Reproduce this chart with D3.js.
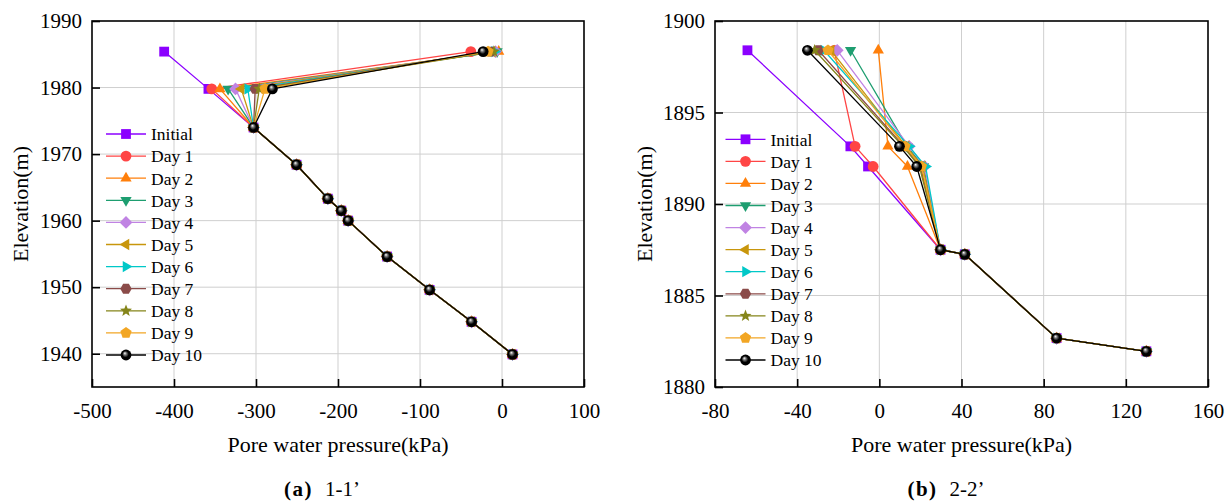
<!DOCTYPE html>
<html><head><meta charset="utf-8">
<script src="https://cdn.jsdelivr.net/npm/d3@7"></script>
<style>
body{margin:0;background:#fff}
svg text{font-family:"Liberation Serif","Times New Roman",serif !important;fill:#000}
</style>
</head><body>
<svg id="chart" width="1231" height="502" font-family="Liberation Serif"></svg>
<script>
// ---------- data ----------
const seriesNames = ["Initial","Day 1","Day 2","Day 3","Day 4","Day 5","Day 6","Day 7","Day 8","Day 9","Day 10"];
const seriesColors = ["#8B00FF","#FF4545","#FF7F0A","#1E9E70","#C083E3","#C8960C","#00C8C8","#8B4B49","#85851A","#F2A624","#000000"];
const seriesShapes = ["square","circle","triUp","triDown","diamond","triLeft","triRight","hexagon","star","pentagon","sphere"];

// Panel (a) 1-1'
const elevA   = [1985.4, 1979.8, 1974.0, 1968.4, 1963.3, 1961.5, 1960.0, 1954.6, 1949.6, 1944.8, 1939.9];
const topA    = [-412, -38, -4, -6, -8, -12, -9, -14, -10, -17, -23];
const secondA = [-358, -354, -344, -334, -325, -318, -310, -301, -296, -289, -280];
const lowerA  = [-303, -250.6, -212.4, -196, -187.6, -140.1, -88.3, -37.1, 12.8];
const xTicksA = [-500, -400, -300, -200, -100, 0, 100];
const yTicksA = [1940, 1950, 1960, 1970, 1980, 1990];

// Panel (b) 2-2'
const elevB   = [1898.4, 1893.15, 1892.05, 1887.5, 1887.25, 1882.67, 1881.95];
const topB    = [-64.2, -22, -0.5, -14, -20.5, -23.5, -27, -29.7, -31.5, -25, -35];
const secondB = [-14.1, -11.8, 4.2, 13.5, 14.5, 13, 14.5, 12, 11.5, 12.5, 9.8];
const thirdB  = [-5.5, -3, 13.7, 21.5, 22, 21, 22.5, 20, 19.5, 20.5, 18.2];
const lowerB  = [29.8, 41.6, 86.3, 130];
const xTicksB = [-80, -40, 0, 40, 80, 120, 160];
const yTicksB = [1880, 1885, 1890, 1895, 1900];

// ---------- helpers ----------
const FONT = '"Liberation Serif","Times New Roman",serif';
const svg = d3.select("#chart");
const defs = svg.append("defs");
const grad = defs.append("radialGradient").attr("id","sphere").attr("cx","0.5").attr("cy","0.5").attr("r","0.5").attr("fx","0.38").attr("fy","0.32");
grad.append("stop").attr("offset","0%").attr("stop-color","#ffffff");
grad.append("stop").attr("offset","28%").attr("stop-color","#777777");
grad.append("stop").attr("offset","60%").attr("stop-color","#000000");
grad.append("stop").attr("offset","100%").attr("stop-color","#000000");

function poly(n, r, rot) {
  let p = "";
  for (let i = 0; i < n; i++) {
    const a = rot + i * 2 * Math.PI / n;
    p += (i ? "L" : "M") + (r * Math.cos(a)).toFixed(2) + "," + (r * Math.sin(a)).toFixed(2);
  }
  return p + "Z";
}
function shapePath(shape) {
  const s = 4.9;
  switch (shape) {
    case "square": return `M${-s},${-s}H${s}V${s}H${-s}Z`;
    case "circle": case "sphere": { const r = 5.4; return `M${-r},0A${r},${r} 0 1,0 ${r},0A${r},${r} 0 1,0 ${-r},0Z`; }
    case "triUp": return poly(3, 6.5, -Math.PI / 2);
    case "triDown": return poly(3, 6.5, Math.PI / 2);
    case "triLeft": return poly(3, 6.5, Math.PI);
    case "triRight": return poly(3, 6.5, 0);
    case "diamond": return poly(4, 6.4, -Math.PI / 2);
    case "hexagon": return poly(6, 5.7, 0);
    case "pentagon": return poly(5, 5.9, -Math.PI / 2);
    case "star": {
      let p = "";
      for (let i = 0; i < 10; i++) {
        const r = i % 2 ? 2.7 : 6.3, a = -Math.PI / 2 + i * Math.PI / 5;
        p += (i ? "L" : "M") + (r * Math.cos(a)).toFixed(2) + "," + (r * Math.sin(a)).toFixed(2);
      }
      return p + "Z";
    }
  }
}
function markerFill(i) { return seriesShapes[i] === "sphere" ? "url(#sphere)" : seriesColors[i]; }

function drawPanel(cfg) {
  const g = svg.append("g").attr("font-family", FONT);
  const x = d3.scaleLinear().domain(cfg.xDomain).range([cfg.left, cfg.right]);
  const y = d3.scaleLinear().domain(cfg.yDomain).range([cfg.bottom, cfg.top]);

  // grid
  g.append("g").selectAll("line").data(cfg.xTicks.filter(t => t > cfg.xDomain[0] && t < cfg.xDomain[1]))
    .join("line").attr("x1", d => x(d)).attr("x2", d => x(d)).attr("y1", cfg.top).attr("y2", cfg.bottom)
    .attr("stroke", "#cfcfcf").attr("stroke-width", 1);
  g.append("g").selectAll("line").data(cfg.yTicks.filter(t => t > cfg.yDomain[0] && t < cfg.yDomain[1]))
    .join("line").attr("y1", d => y(d)).attr("y2", d => y(d)).attr("x1", cfg.left).attr("x2", cfg.right)
    .attr("stroke", "#cfcfcf").attr("stroke-width", 1);

  // axes
  const fmt = d => String(d);
  const xAxis = d3.axisBottom(x).tickValues(cfg.xTicks).tickSize(-8).tickPadding(16).tickFormat(fmt);
  const yAxis = d3.axisLeft(y).tickValues(cfg.yTicks).tickSize(-8).tickPadding(18).tickFormat(fmt);
  const gx = g.append("g").attr("transform", `translate(0,${cfg.bottom})`).call(xAxis);
  const gy = g.append("g").attr("transform", `translate(${cfg.left},0)`).call(yAxis);
  [gx, gy].forEach(a => {
    a.attr("font-family", FONT).attr("font-size", 21);
    a.select(".domain").remove();
    a.selectAll(".tick line").attr("stroke", "#000").attr("stroke-width", 1.6);
    a.selectAll(".tick text").style("font-family", FONT).style("font-size", "21px").attr("fill", "#000");
  });
  gy.selectAll(".tick text").attr("dx", "8");

  // series
  const lineGen = d3.line().x(d => x(d[0])).y(d => y(d[1]));
  cfg.series.forEach((pts, i) => {
    const sg = g.append("g");
    sg.append("path").attr("d", lineGen(pts)).attr("fill", "none")
      .attr("stroke", seriesColors[i]).attr("stroke-width", 1.3).attr("stroke-linejoin", "round");
    sg.selectAll("path.m").data(pts).join("path").attr("class", "m")
      .attr("transform", d => `translate(${x(d[0])},${y(d[1])})`)
      .attr("d", shapePath(seriesShapes[i])).attr("fill", markerFill(i));
  });

  // frame
  g.append("rect").attr("x", cfg.left).attr("y", cfg.top)
    .attr("width", cfg.right - cfg.left).attr("height", cfg.bottom - cfg.top)
    .attr("fill", "none").attr("stroke", "#000").attr("stroke-width", 1.6);

  // legend
  const lg = g.append("g");
  seriesNames.forEach((name, i) => {
    const yy = cfg.legY + i * cfg.legStep;
    lg.append("line").attr("x1", cfg.legX).attr("x2", cfg.legX + 40).attr("y1", yy).attr("y2", yy)
      .attr("stroke", seriesColors[i]).attr("stroke-width", 1.3);
    lg.append("path").attr("transform", `translate(${cfg.legX + 20},${yy})`)
      .attr("d", shapePath(seriesShapes[i])).attr("fill", markerFill(i));
    lg.append("text").attr("x", cfg.legX + 45).attr("y", yy).attr("dy", "0.36em")
      .style("font-family", FONT).style("font-size", "17.5px").text(name);
  });

  // axis titles
  g.append("text").attr("x", (cfg.left + cfg.right) / 2).attr("y", 452).attr("text-anchor", "middle")
    .style("font-family", FONT).style("font-size", "22px").text("Pore water pressure(kPa)");
  g.append("text").attr("transform", `translate(${cfg.yTitleX},${(cfg.top + cfg.bottom) / 2}) rotate(-90)`)
    .attr("text-anchor", "middle").style("font-family", FONT).style("font-size", "22px").text("Elevation(m)");

  // caption
  const cap = g.append("text").attr("x", cfg.capX).attr("y", 496).attr("text-anchor", "middle")
    .style("font-family", FONT).style("font-size", "21px");
  cap.append("tspan").attr("font-weight", "bold").attr("letter-spacing", "1.5").text(cfg.capLabel);
  cap.append("tspan").attr("dx", 12).text(cfg.capText);
}

// build series point lists from the read values
const seriesA = seriesNames.map((_, i) =>
  [[topA[i], elevA[0]], [secondA[i], elevA[1]]].concat(lowerA.map((v, k) => [v, elevA[k + 2]])));
const seriesB = seriesNames.map((_, i) =>
  [[topB[i], elevB[0]], [secondB[i], elevB[1]], [thirdB[i], elevB[2]]].concat(lowerB.map((v, k) => [v, elevB[k + 3]])));

drawPanel({
  left: 92, right: 584, top: 21, bottom: 387,
  xDomain: [-500, 100], yDomain: [1935, 1990], xTicks: xTicksA, yTicks: yTicksA,
  series: seriesA, legX: 106, legY: 134, legStep: 22.1, yTitleX: 28,
  capX: 322, capLabel: "(a)", capText: "1-1\u2019"
});
drawPanel({
  left: 715, right: 1208, top: 21, bottom: 387,
  xDomain: [-80, 160], yDomain: [1880, 1900], xTicks: xTicksB, yTicks: yTicksB,
  series: seriesB, legX: 725.5, legY: 139.3, legStep: 22.07, yTitleX: 652,
  capX: 946, capLabel: "(b)", capText: "2-2\u2019"
});
</script>
</body></html>
